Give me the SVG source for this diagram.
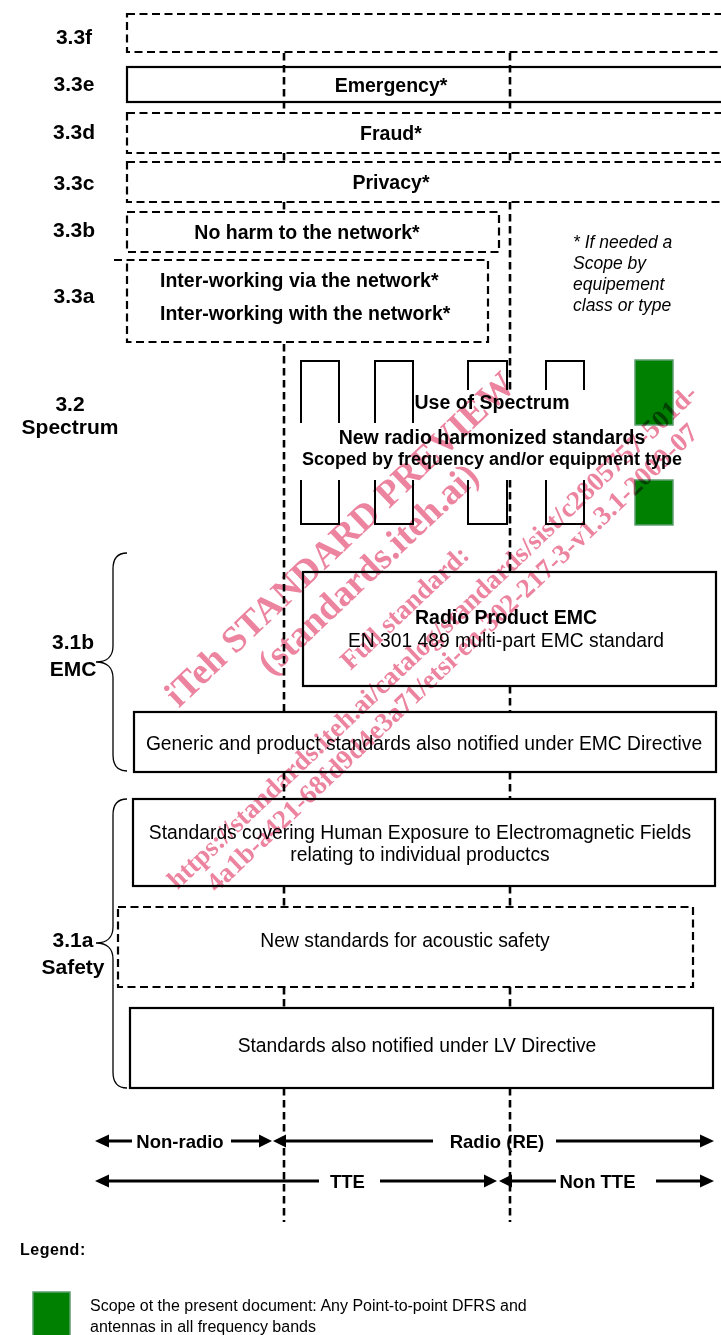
<svg xmlns="http://www.w3.org/2000/svg" width="721" height="1335" viewBox="0 0 721 1335">
<style>
.lbl{font-family:"Liberation Sans",Arial,sans-serif;font-weight:bold;font-size:21px;text-anchor:middle;fill:#000}
.bt{font-family:"Liberation Sans",Arial,sans-serif;font-weight:bold;font-size:19.5px;text-anchor:middle;fill:#000}
.rt{font-family:"Liberation Sans",Arial,sans-serif;font-size:19.3px;text-anchor:middle;fill:#000}
.it{font-family:"Liberation Sans",Arial,sans-serif;font-style:italic;font-size:17.5px;fill:#000}
.at{font-family:"Liberation Sans",Arial,sans-serif;font-weight:bold;font-size:18.5px;text-anchor:middle;fill:#000}
.dbox{fill:none;stroke:#000;stroke-width:2.2;stroke-dasharray:8 4.5}
.sbox{fill:none;stroke:#000;stroke-width:2.2}
.vl{fill:none;stroke:#000;stroke-width:2.6;stroke-dasharray:7.5 4.5}
.sp{fill:none;stroke:#000;stroke-width:2}
.grn{fill:#008000;stroke:#5e9e72;stroke-width:1.5}
.brace{fill:none;stroke:#000;stroke-width:1.3}
.arr{stroke:#000;stroke-width:3;fill:none}
.ah{fill:#000}
.wm{font-family:"Liberation Serif","Times New Roman",serif;font-weight:bold;fill:#ec839f;text-anchor:middle}
</style>

<g id="connectors">
  <path class="vl" d="M284,53 V112 M284,153 V162 M284,202 V212 M284,344 V712 M284,772 V799 M284,886 V907 M284,987 V1008 M284,1088 V1222"/>
  <path class="vl" d="M510,53 V112 M510,153 V162 M510,202 V390 M510,480 V572 M510,686 V712 M510,772 V799 M510,886 V907 M510,987 V1008 M510,1088 V1222"/>
</g>

<g id="labels">
  <text class="lbl" x="74" y="44">3.3f</text>
  <text class="lbl" x="74" y="91">3.3e</text>
  <text class="lbl" x="74" y="139">3.3d</text>
  <text class="lbl" x="74" y="190">3.3c</text>
  <text class="lbl" x="74" y="237">3.3b</text>
  <text class="lbl" x="74" y="303">3.3a</text>
  <text class="lbl" x="70" y="411">3.2</text>
  <text class="lbl" x="70" y="434">Spectrum</text>
  <text class="lbl" x="73" y="649">3.1b</text>
  <text class="lbl" x="73" y="676">EMC</text>
  <text class="lbl" x="73" y="947">3.1a</text>
  <text class="lbl" x="73" y="974">Safety</text>
</g>

<g id="n33f"><rect class="dbox" x="127" y="14" width="620" height="38"/></g>
<g id="n33e"><rect class="sbox" x="127" y="67" width="620" height="35"/><text class="bt" x="391" y="91.5">Emergency*</text></g>
<g id="n33d"><rect class="dbox" x="127" y="113" width="620" height="40"/><text class="bt" x="391" y="140">Fraud*</text></g>
<g id="n33c"><rect class="dbox" x="127" y="162" width="620" height="40"/><text class="bt" x="391" y="189">Privacy*</text></g>
<g id="n33b"><rect class="dbox" x="127" y="212" width="372" height="40"/><text class="bt" x="307" y="239">No harm to the network*</text></g>
<g id="n33a"><path class="dbox" d="M114,260 H488 V342 H127 V260"/>
  <text class="bt" x="160" y="287" style="text-anchor:start">Inter-working via the network*</text>
  <text class="bt" x="160" y="320" style="text-anchor:start">Inter-working with the network*</text>
</g>

<g id="note">
  <text class="it" x="573" y="248">* If needed a</text>
  <text class="it" x="573" y="269">Scope by</text>
  <text class="it" x="573" y="290">equipement</text>
  <text class="it" x="573" y="311">class or type</text>
</g>

<g id="spectrum">
  <path class="sp" d="M301,423 V361 H339 V423 M375,423 V361 H413 V423 M468,390 V361 H507 V390 M546,390 V361 H584 V390"/>
  <path class="sp" d="M301,480 V524 H339 V480 M375,480 V524 H413 V480 M468,480 V524 H507 V480 M546,480 V524 H584 V480"/>
  <rect class="grn" x="635" y="360" width="38" height="65"/>
  <rect class="grn" x="635" y="480" width="38" height="45"/>
  <text class="bt" x="492" y="409">Use of Spectrum</text>
  <text class="bt" x="492" y="444">New radio harmonized standards</text>
  <text class="bt" x="492" y="465" style="font-size:18px">Scoped by frequency and/or equipment type</text>
</g>

<g id="emc-brace"><path class="brace" d="M127,553 C117,553 113,559 113,569 L113,646 C113,656 107,662 96,662 C107,662 113,668 113,678 L113,755 C113,765 117,771 127,771"/></g>
<g id="radio-emc"><rect class="sbox" x="303" y="572" width="413" height="114"/>
  <text class="bt" x="506" y="624">Radio Product EMC</text>
  <text class="rt" x="506" y="647">EN 301 489 multi-part EMC standard</text>
</g>
<g id="generic-emc"><rect class="sbox" x="134" y="712" width="582" height="60"/>
  <text class="rt" x="424" y="750">Generic and product standards also notified under EMC Directive</text>
</g>

<g id="safety-brace"><path class="brace" d="M127,799 C117,799 113,805 113,815 L113,927 C113,937 107,943 96,943 C107,943 113,949 113,959 L113,1072 C113,1082 117,1088 127,1088"/></g>
<g id="human-exposure"><rect class="sbox" x="133" y="799" width="582" height="87"/>
  <text class="rt" x="420" y="839">Standards covering Human Exposure to Electromagnetic Fields</text>
  <text class="rt" x="420" y="861">relating to individual productcs</text>
</g>
<g id="acoustic"><rect class="dbox" x="118" y="907" width="575" height="80"/>
  <text class="rt" x="405" y="947">New standards for acoustic safety</text>
</g>
<g id="lv"><rect class="sbox" x="130" y="1008" width="583" height="80"/>
  <text class="rt" x="417" y="1052">Standards also notified under LV Directive</text>
</g>

<g id="axis-radio">
  <path class="arr" d="M107,1141 H132 M231,1141 H262"/>
  <polygon class="ah" points="95,1141 109,1134.5 109,1147.5"/>
  <polygon class="ah" points="272,1141 259,1134.5 259,1147.5"/>
  <text class="at" x="180" y="1147.5">Non-radio</text>
  <path class="arr" d="M284,1141 H433 M556,1141 H702"/>
  <polygon class="ah" points="273,1141 286,1134.5 286,1147.5"/>
  <polygon class="ah" points="714,1141 700,1134.5 700,1147.5"/>
  <text class="at" x="497" y="1147.5">Radio (RE)</text>
</g>
<g id="axis-tte">
  <path class="arr" d="M107,1181 H319 M380,1181 H486"/>
  <polygon class="ah" points="95,1181 109,1174.5 109,1187.5"/>
  <polygon class="ah" points="497,1181 484,1174.5 484,1187.5"/>
  <text class="at" x="347.5" y="1188">TTE</text>
  <path class="arr" d="M510,1181 H556 M656,1181 H702"/>
  <polygon class="ah" points="499,1181 512,1174.5 512,1187.5"/>
  <polygon class="ah" points="714,1181 700,1174.5 700,1187.5"/>
  <text class="at" x="597.5" y="1188">Non TTE</text>
</g>

<g id="legend">
  <text x="20" y="1255" style="font-family:'Liberation Sans',Arial,sans-serif;font-weight:bold;font-size:16px;letter-spacing:0.5px">Legend:</text>
  <rect class="grn" x="33" y="1292" width="37" height="50"/>
  <text x="90" y="1311" style="font-family:'Liberation Sans',Arial,sans-serif;font-size:16px">Scope ot the present document: Any Point-to-point DFRS and</text>
  <text x="90" y="1332" style="font-family:'Liberation Sans',Arial,sans-serif;font-size:16px">antennas in all frequency bands</text>
</g>

<g id="watermark" transform="translate(436,645) rotate(-43.5)" style="mix-blend-mode:multiply">
  <text class="wm" x="3" y="-131" style="font-size:37px">iTeh STANDARD PREVIEW</text>
  <text class="wm" x="3" y="-90" style="font-size:37px">(standards.iteh.ai)</text>
  <text class="wm" x="3" y="-40" style="font-size:27px">Full standard:</text>
  <text class="wm" x="3" y="0" style="font-size:27px">https://standards.iteh.ai/catalog/standards/sist/c2805757-501d-</text>
  <text class="wm" x="3" y="29" style="font-size:27px">4a1b-a421-68fd9d4e3a71/etsi-en-302-217-3-v1.3.1-2009-07</text>
</g>
</svg>
